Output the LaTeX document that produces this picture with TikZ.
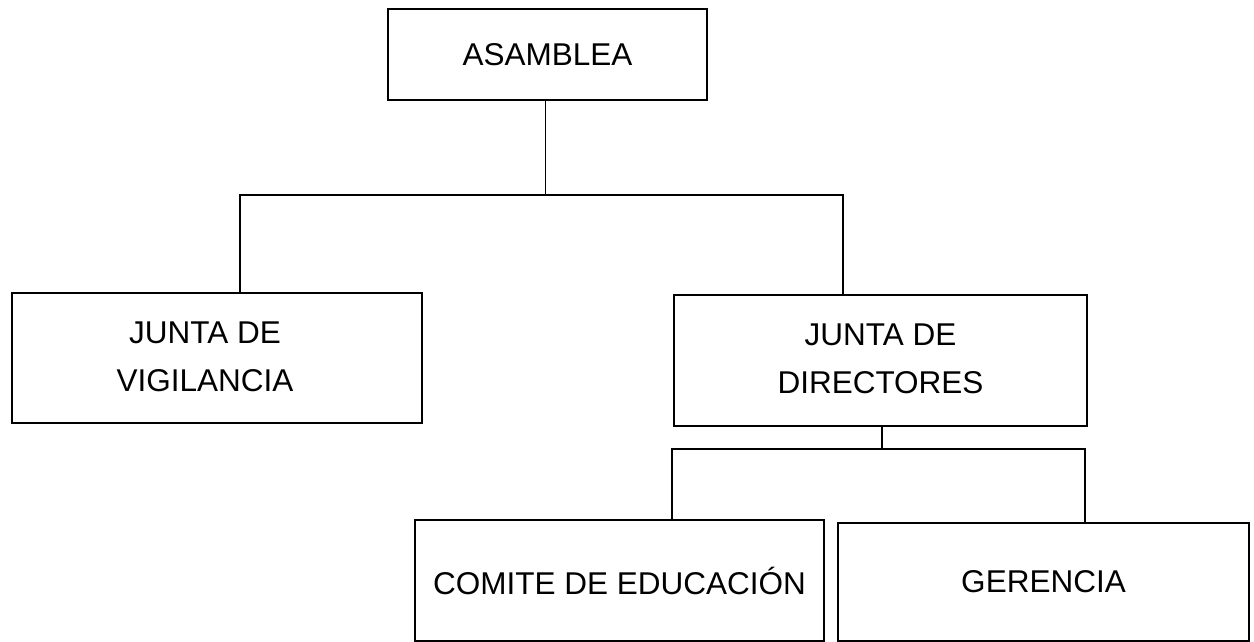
\documentclass[tikz,border=0pt]{standalone}
\usepackage{fontspec}
\setmainfont{Liberation Sans}
\begin{document}
\begin{tikzpicture}[x=1pt,y=-1pt,
  box/.style={draw=black, line width=1.6pt, rectangle, inner sep=0pt, align=center,
    font=\fontsize{31.5}{46}\selectfont},
  conn/.style={draw=black, line width=1.6pt, line join=miter}]
\useasboundingbox (0,0) rectangle (1254,642);
% boxes
\node[box, minimum width=319pt, minimum height=91pt] (asam) at (547.5,54.5) {ASAMBLEA};
\node[box, minimum width=410pt, minimum height=130pt] (vig) at (217,358) {\hspace*{-24pt}\raisebox{-3pt}{\begin{tabular}{@{}c@{}}JUNTA DE\\[2pt]VIGILANCIA\end{tabular}}};
\node[box, minimum width=413pt, minimum height=131pt] (dir) at (880.5,360.5) {\begin{tabular}{@{}c@{}}JUNTA DE\\[2pt]DIRECTORES\end{tabular}};
\node[box, minimum width=409pt, minimum height=121pt] (com) at (619.5,580.5) {\raisebox{-4pt}{COMITE DE EDUCACIÓN}};
\node[box, minimum width=411pt, minimum height=118pt] (ger) at (1043.5,582) {\raisebox{-4pt}{GERENCIA}};
% junction coordinates
\coordinate (a1) at (545.5,195);
\coordinate (aL) at (240,195);
\coordinate (aR) at (843,195);
\coordinate (d1) at (882,449);
\coordinate (dL) at (672,449);
\coordinate (dR) at (1085,449);
% connectors
\draw[conn] (asam.south -| a1) -- (a1);
\draw[conn] (aL |- vig.north) -- (aL) -- (aR) -- (aR |- dir.north);
\draw[conn] (dir.south -| d1) -- (d1);
\draw[conn] (dL |- com.north) -- (dL) -- (dR) -- (dR |- ger.north);
\end{tikzpicture}
\end{document}
